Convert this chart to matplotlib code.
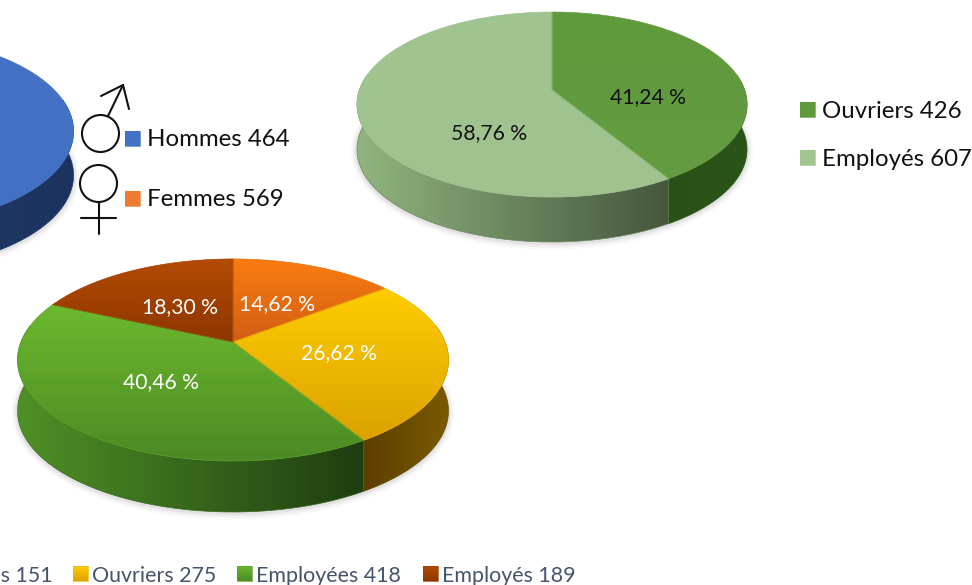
#!/usr/bin/env python
"""Three 3D-looking pies: sex, workers/employees, and the split by both."""
import matplotlib
matplotlib.use("Agg")
import matplotlib.pyplot as plt
import numpy as np
from matplotlib.colors import LinearSegmentedColormap
from matplotlib.patches import Ellipse, Polygon

plt.rcParams["font.family"] = ["Lato", "DejaVu Sans"]

# data
sex_labels = ["Hommes", "Femmes"]
sex_counts = [464, 569]
job_labels = ["Ouvriers", "Employés"]
job_counts = [426, 607]
mix_labels = ["Ouvrières", "Ouvriers", "Employées", "Employés"]
mix_counts = [151, 275, 418, 189]

W, H = 972, 585
INK = "#111111"
SLATE = "#44546a"

# pie geometry in pixels: apex x/y, radii, perspective, side height
SEX_PIE = dict(cx=-122, cy=116, a=193, b=93, k=0.16, depth=44)
JOB_PIE = dict(cx=552, cy=90, a=192.6, b=90.2, k=0.157, depth=45)
MIX_PIE = dict(cx=233, cy=342, a=212, b=97.8, k=0.178, depth=51)

SEX_TOP = [("#4472c4", "#4270c2"), ("#ed7d31", "#ed7d31")]
SEX_SIDE = [("#1f3864", "#1c3360"), ("#a04f17", "#a04f17")]
JOB_TOP = [("#5f9a3c", "#659c42"), ("#a1c590", "#9fc28e")]
JOB_SIDE = [("#2a5016", "#2a5518"), ("#90b57f", "#45563c")]
MIX_TOP = [("#fb7d10", "#d05e14"), ("#ffcd00", "#dca200"),
           ("#6cb92e", "#4b8a24"), ("#b54b04", "#8c3600")]
MIX_SIDE = [("#a04a08", "#a04a08"), ("#5c3f00", "#7a5a00"),
            ("#4f9026", "#1e3d10"), ("#6e2c00", "#6e2c00")]


def project(pie, theta):
    """Clockwise angle from 12 o'clock (deg) to pixels, with perspective."""
    t = np.radians(theta)
    x, y = np.sin(t), np.cos(t)
    w = 1 + pie["k"] * y
    return pie["cx"] + pie["a"] * x / w, pie["cy"] - pie["b"] * y / w


def gradient(ax, xy, c0, c1, horizontal, z):
    xy = np.asarray(xy)
    x0, y0 = xy.min(axis=0)
    x1, y1 = xy.max(axis=0)
    ramp = np.linspace(0, 1, 256)
    ramp = ramp[None, :] if horizontal else ramp[:, None]
    cmap = LinearSegmentedColormap.from_list("g", [c0, c1])
    im = ax.imshow(ramp, cmap=cmap, vmin=0, vmax=1, extent=(x0, x1, y1, y0),
                   origin="upper", aspect="auto", zorder=z, interpolation="bilinear")
    patch = Polygon(xy, closed=True, transform=ax.transData, fill=False, lw=0)
    im.set_clip_path(patch)
    mid = cmap(0.5)
    ax.add_patch(Polygon(xy, closed=True, fill=False, ec=mid, lw=0.5, zorder=z + 0.1))


def shadow(ax, pie):
    ts = np.linspace(0, 360, 240)
    px, py = project(pie, ts)
    cx, cy = px.mean(), py.mean() + pie["depth"]
    for grow, alpha in [(6, 0.03), (4, 0.05), (2, 0.09)]:
        sx = cx + (px - cx) * (1 + grow / pie["a"])
        sy = cy + (py + pie["depth"] - cy) * (1 + grow / pie["b"]) + 1
        ax.fill(sx, sy, color="#555555", alpha=alpha, lw=0, zorder=1)


def draw_pie(ax, pie, counts, top, side):
    shadow(ax, pie)
    edges = np.concatenate([[0], np.cumsum(counts) / np.sum(counts) * 360])
    # sides first, the top surfaces cover whatever faces away
    for (t0, t1), (c0, c1) in zip(zip(edges[:-1], edges[1:]), side):
        lo, hi = max(t0, 80), min(t1, 280)
        if lo >= hi:
            continue
        ts = np.linspace(lo, hi, 120)
        px, py = project(pie, ts)
        xy = np.r_[np.c_[px, py], np.c_[px, py + pie["depth"]][::-1]]
        gradient(ax, xy, c0, c1, True, 2)
    for (t0, t1), (c0, c1) in zip(zip(edges[:-1], edges[1:]), top):
        ts = np.linspace(t0, t1, 200)
        px, py = project(pie, ts)
        xy = np.r_[[[pie["cx"], pie["cy"]]], np.c_[px, py]]
        gradient(ax, xy, c0, c1, False, 3)


def square(ax, x, y, c0, c1=None):
    s = 15
    xy = [(x, y), (x + s, y), (x + s, y + s), (x, y + s)]
    gradient(ax, xy, c0, c1 or c0, False, 4)


def gender_signs(ax):
    kw = dict(color=INK, lw=1.5, solid_capstyle="round", zorder=5)
    ax.add_patch(Ellipse((100.5, 133.5), 37, 37, fill=False, ec=INK, lw=1.5, zorder=5))
    ax.plot([108, 123], [116, 85], **kw)
    ax.plot([101, 123, 129], [96, 85, 109], **kw)
    ax.add_patch(Ellipse((98.5, 183.5), 37, 37, fill=False, ec=INK, lw=1.5, zorder=5))
    ax.plot([98.5, 98.5], [202, 234], **kw)
    ax.plot([81, 116], [218, 218], **kw)


def main():
    fig = plt.figure(figsize=(W / 100, H / 100), dpi=100)
    ax = fig.add_axes([0, 0, 1, 1])
    ax.axis("off")

    draw_pie(ax, SEX_PIE, sex_counts, SEX_TOP, SEX_SIDE)
    draw_pie(ax, JOB_PIE, job_counts, JOB_TOP, JOB_SIDE)
    draw_pie(ax, MIX_PIE, mix_counts, MIX_TOP, MIX_SIDE)
    gender_signs(ax)

    def pct(counts):
        return [f"{100 * c / sum(counts):.2f} %".replace(".", ",") for c in counts]

    job_pct = pct(job_counts)
    mix_pct = pct(mix_counts)
    lab = dict(ha="center", va="center", fontsize=15.2, zorder=6)
    ax.text(648, 97, job_pct[0], color=INK, **lab)
    ax.text(489, 133, job_pct[1], color=INK, **lab)
    for (x, y), s in zip([(277, 304), (339, 353), (161, 382), (180, 307)], mix_pct):
        ax.text(x, y, s, color="white", **lab)

    leg = dict(ha="left", va="center", fontsize=17.3, color=INK, zorder=6)
    square(ax, 125, 131, "#4472c4")
    ax.text(147, 140, f"{sex_labels[0]} {sex_counts[0]}", **leg)
    square(ax, 125, 191, "#ed7d31")
    ax.text(147, 200, f"{sex_labels[1]} {sex_counts[1]}", **leg)
    square(ax, 800, 102, "#5f9a3c")
    ax.text(822, 111, f"{job_labels[0]} {job_counts[0]}", **leg)
    square(ax, 800, 150, "#a1c590")
    ax.text(822, 160, f"{job_labels[1]} {job_counts[1]}", **leg)

    bot = dict(va="center", fontsize=15.4, color=SLATE, zorder=6)
    ax.text(53, 576, f"{mix_labels[0]} {mix_counts[0]}", ha="right", **bot)
    for x, c, name, n in zip([73, 237, 423], MIX_TOP[1:], mix_labels[1:], mix_counts[1:]):
        square(ax, x, 566, c[0], c[1])
        ax.text(x + 19, 576, f"{name} {n}", ha="left", **bot)

    ax.set_xlim(0, W)
    ax.set_ylim(H, 0)
    fig.savefig("out.png", dpi=100, facecolor="white")
    plt.close(fig)


if __name__ == "__main__":
    main()
